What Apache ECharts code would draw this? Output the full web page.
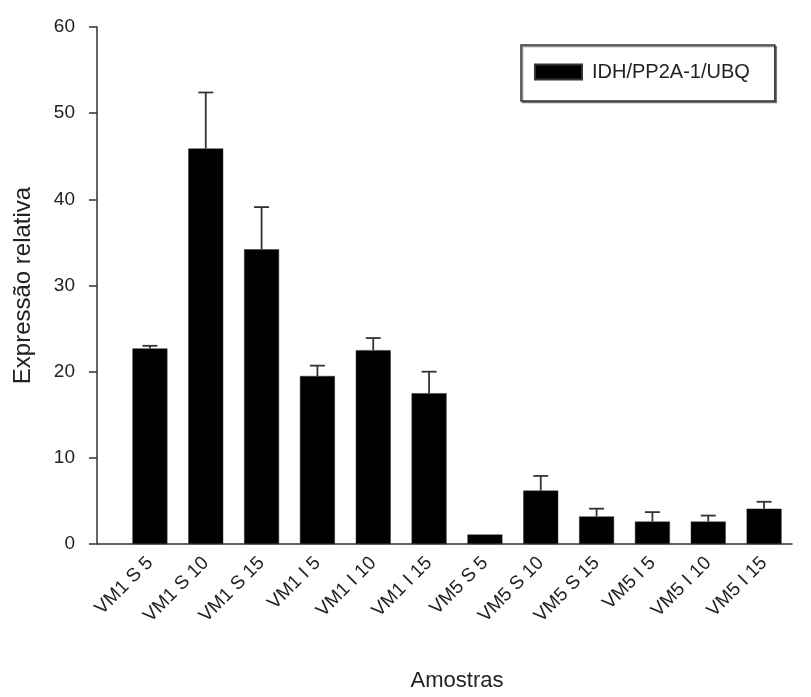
<!DOCTYPE html>
<html>
<head>
<meta charset="utf-8">
<script src="https://cdn.jsdelivr.net/npm/echarts@6/dist/echarts.min.js"></script>
<style>
  html, body { margin: 0; padding: 0; background: #fff; }
  #chart { width: 811px; height: 697px; }
</style>
</head>
<body>
<div id="chart"></div>
<script>
// Samples and relative expression (mean, upper error)
const categories = ['VM1 S 5', 'VM1 S 10', 'VM1 S 15', 'VM1 I 5', 'VM1 I 10', 'VM1 I 15',
                    'VM5 S 5', 'VM5 S 10', 'VM5 S 15', 'VM5 I 5', 'VM5 I 10', 'VM5 I 15'];
const means  = [22.7, 45.9, 34.2, 19.5, 22.5, 17.5, 1.1, 6.2, 3.2, 2.6, 2.6, 4.1];
const errors = [0.3, 6.5, 4.9, 1.2, 1.4, 2.5, 0, 1.7, 0.9, 1.1, 0.7, 0.8];
const seriesName = 'IDH/PP2A-1/UBQ';
const yTicks = { min: 0, max: 60, step: 10 };

const FONT = 'Arial, "Liberation Sans", sans-serif';
const INK = '#222';

const chart = echarts.init(document.getElementById('chart'));

const errData = means.map((m, i) => [i, m, errors[i]]);

chart.setOption({
  animation: false,
  backgroundColor: '#fff',
  grid: { left: 122, right: 19, top: 27, bottom: 151 },
  legend: {
    data: [{ name: seriesName, icon: 'rect' }],
    left: 521, top: 45,
    itemWidth: 47, itemHeight: 15,
    padding: [17, 25, 19, 13],
    borderColor: '#333', borderWidth: 1.5,
    shadowColor: 'rgba(0,0,0,0.45)', shadowOffsetX: 1.5, shadowOffsetY: 1.5, shadowBlur: 0,
    backgroundColor: '#fff',
    textStyle: { fontFamily: FONT, fontSize: 20, color: INK, padding: [0, 0, 0, 5] }
  },
  xAxis: {
    type: 'category',
    data: categories,
    name: 'Amostras',
    nameLocation: 'middle',
    nameGap: 126,
    nameTextStyle: { fontFamily: FONT, fontSize: 22, color: INK },
    axisLine: { lineStyle: { color: '#333', width: 1.5 } },
    axisTick: { alignWithLabel: true, length: 9, lineStyle: { color: '#333', width: 1.5 } },
    axisLabel: { rotate: 45, margin: 16, fontFamily: FONT, fontSize: 19, color: INK, interval: 0 }
  },
  yAxis: {
    type: 'value',
    min: yTicks.min, max: yTicks.max, interval: yTicks.step,
    offset: 25,
    name: 'Expressão relativa',
    nameLocation: 'middle',
    nameGap: 62,
    nameTextStyle: { fontFamily: FONT, fontSize: 24, color: INK },
    axisLine: { show: true, lineStyle: { color: '#333', width: 1.5 } },
    axisTick: { show: true, length: 8, lineStyle: { color: '#333', width: 1.5 } },
    axisLabel: { margin: 22, fontFamily: FONT, fontSize: 19, color: INK },
    splitLine: { show: false }
  },
  series: [
    {
      name: seriesName,
      type: 'bar',
      data: means,
      barWidth: 35,
      itemStyle: { color: '#000', borderColor: '#333', borderWidth: 0.5 }
    },
    {
      name: 'err',
      type: 'custom',
      data: errData,
      z: 3,
      renderItem: function (params, api) {
        const idx = api.value(0), m = api.value(1), e = api.value(2);
        if (!e) return null;
        const base = api.coord([idx, m]);
        const top = api.coord([idx, m + e]);
        const half = 7.5;
        const style = { stroke: '#333', lineWidth: 1.8 };
        return {
          type: 'group',
          children: [
            { type: 'line', shape: { x1: base[0], y1: base[1], x2: top[0], y2: top[1] }, style: style },
            { type: 'line', shape: { x1: top[0] - half, y1: top[1], x2: top[0] + half, y2: top[1] }, style: style }
          ]
        };
      }
    }
  ]
});

// The y axis sits left of the first category band; carry the x axis line over to it.
function extendBaseline() {
  const origin = chart.convertToPixel({ gridIndex: 0 }, [0, 0]);
  const yAxisModel = chart.getModel().getComponent('yAxis', 0);
  const offset = yAxisModel.get('offset');
  const gridRect = chart.getModel().getComponent('grid', 0).coordinateSystem.getRect();
  chart.setOption({
    graphic: [{
      type: 'line',
      shape: { x1: gridRect.x - offset, y1: origin[1], x2: gridRect.x, y2: origin[1] },
      style: { stroke: '#333', lineWidth: 1.5 },
      z: 10
    }]
  });
}
extendBaseline();
</script>
</body>
</html>
